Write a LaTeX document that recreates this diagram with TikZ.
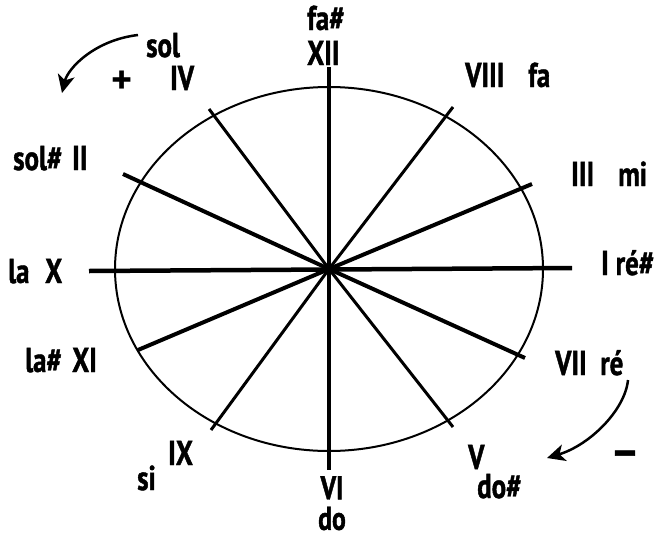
\documentclass[tikz,border=0pt]{standalone}
\usepackage{fontspec}
\usetikzlibrary{arrows.meta}
\newfontfamily\lblfont[FakeStretch=0.78, FakeBold=1.2]{PT Sans}
\newfontfamily\symfont{PT Sans}
\begin{document}
\begin{tikzpicture}[x=1pt,y=-1pt,
  lbl/.style={font=\lblfont\bfseries\fontsize{34.5}{36}\selectfont, inner sep=0pt, anchor=base west},
  big/.style={font=\symfont\bfseries\fontsize{40}{40}\selectfont, inner sep=0pt, anchor=center},
  axis/.style={line width=4.5pt},
  thickray/.style={line width=4pt},
  thinray/.style={line width=3pt},
  curvarrow/.style={line width=2.5pt, -{Stealth[length=18pt,width=17pt,inset=5pt]}}]
\useasboundingbox (0,0) rectangle (660,538);
\coordinate (c) at (329,269);
\draw[line width=2pt] (c) ellipse [x radius=214, y radius=182];
% axes
\coordinate (top) at (329,67);
\coordinate (bot) at (329,470);
\coordinate (lft) at (89,271);
\coordinate (rgt) at (572,268);
\draw[axis] (top) -- (bot);
\draw[axis] (lft) -- (rgt);
% rays
\coordinate (rIV) at (209,109);
\coordinate (rII) at (123,174);
\coordinate (rVIII) at (453,107);
\coordinate (rIII) at (532,184);
\coordinate (rXI) at (138,350);
\coordinate (rIX) at (211,430);
\coordinate (rVII) at (525,358);
\coordinate (rV) at (453,427);
\draw[thinray] (c) -- (rIV);
\draw[thickray] (c) -- (rII);
\draw[thinray] (c) -- (rVIII);
\draw[thickray] (c) -- (rIII);
\draw[thickray] (c) -- (rXI);
\draw[thinray] (c) -- (rIX);
\draw[thickray] (c) -- (rVII);
\draw[thinray] (c) -- (rV);
% labels
\node[lbl] (fas) at (307,30) {fa\#};
\node[lbl] (xii) at (307,65) {XII};
\node[lbl] (sol) at (146,57) {sol};
\node[lbl] (iv) at (170,90) {IV};
\node[big] (plus) at (122,82) {+};
\node[lbl] (viii) at (465,87) {VIII};
\node[lbl] (fa) at (528,87) {fa};
\node[lbl] (iii) at (571,186) {III};
\node[lbl] (mi) at (618,186) {mi};
\node[lbl] (sols) at (13,170) {sol\#};
\node[lbl] (ii) at (72,170) {II};
\node[lbl] (la) at (8,283) {la};
\node[lbl] (x) at (45,283) {X};
\node[lbl] (ires) at (601,275) {I ré\#};
\node[lbl] (las) at (25,372) {la\#};
\node[lbl] (xi) at (72,372) {XI};
\node[lbl] (ix) at (168,465) {IX};
\node[lbl] (si) at (137,490) {si};
\node[lbl, anchor=north, align=center, font=\lblfont\bfseries\fontsize{33}{30.5}\selectfont] (vido) at (332,476) {VI\\do};
\node[lbl] (v) at (468,469) {V};
\node[lbl] (dos) at (477,498) {do\#};
\node[lbl] (vii) at (555,375) {VII};
\node[lbl] (re) at (600,375) {ré};
\node[lbl, anchor=center, font=\lblfont\bfseries\fontsize{42}{42}\selectfont] (minus) at (625,458) {—};
% curved arrows
\coordinate (a1s) at (138,35);
\coordinate (a1e) at (62,93);
\draw[curvarrow] (a1s) .. controls (95,40) and (68,68) .. (a1e);
\coordinate (a2s) at (628,380);
\coordinate (a2e) at (547,458);
\draw[curvarrow] (a2s) .. controls (625,410) and (590,445) .. (a2e);
\end{tikzpicture}
\end{document}
